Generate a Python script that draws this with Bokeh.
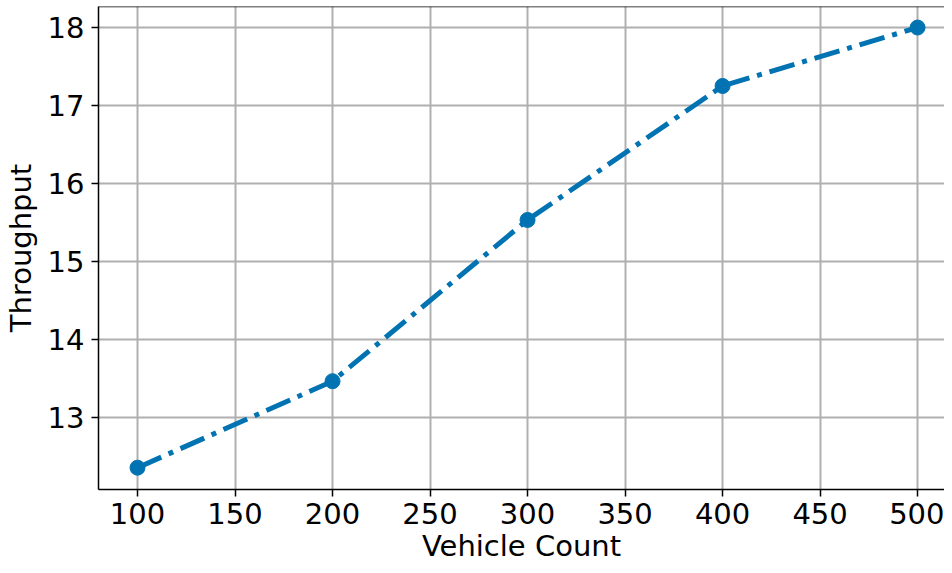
from bokeh.plotting import figure
from bokeh.models import Range1d, Span, FixedTicker
from bokeh.embed import file_html
from bokeh.resources import INLINE

vehicle_count = [100, 200, 300, 400, 500]
throughput = [12.35, 13.46, 15.53, 17.25, 18.0]
x_ticks = [100, 150, 200, 250, 300, 350, 400, 450, 500]
y_ticks = [13, 14, 15, 16, 17, 18]

color = "#0173b2"
FONT = "DejaVu Sans"

p = figure(width=944, height=565, output_backend="svg", toolbar_location=None,
           x_range=Range1d(80, 513.8), y_range=Range1d(12.07, 18.27),
           min_border_left=0, min_border_right=0, min_border_top=6, min_border_bottom=0)

p.outline_line_color = None
p.add_layout(Span(location=18.27, dimension="width", line_color="black", line_width=1.5))

for ax in (p.xaxis[0], p.yaxis[0]):
    ax.axis_line_color = "black"
    ax.axis_line_width = 1.5
    ax.major_tick_line_color = "black"
    ax.major_tick_line_width = 1.5
    ax.major_tick_out = 7
    ax.major_tick_in = 0
    ax.minor_tick_line_color = None
    ax.major_label_text_font = FONT
    ax.major_label_text_font_size = "29px"
    ax.major_label_text_color = "black"
    ax.axis_label_text_font = FONT
    ax.axis_label_text_font_size = "29px"
    ax.axis_label_text_font_style = "normal"
    ax.axis_label_text_color = "black"

p.xaxis.ticker = FixedTicker(ticks=x_ticks)
p.yaxis.ticker = FixedTicker(ticks=y_ticks)
p.xaxis.axis_label = "Vehicle Count"
p.yaxis.axis_label = "Throughput"
p.xaxis.major_label_standoff = 6
p.xaxis.axis_label_standoff = 2
p.yaxis.major_label_standoff = 7
p.yaxis.axis_label_standoff = 7

p.grid.grid_line_color = "#b0b0b0"
p.grid.grid_line_width = 2

p.line(vehicle_count, throughput, line_color=color, line_width=5, line_dash="26 8 5 8")
p.scatter(vehicle_count, throughput, size=15, fill_color=color, line_color=color)

open("out.html", "w").write(file_html(p, INLINE))
